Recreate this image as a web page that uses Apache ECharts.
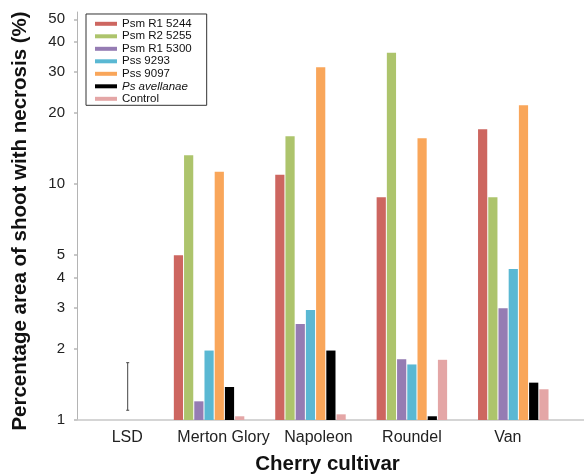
<!DOCTYPE html>
<html><head><meta charset="utf-8">
<script src="https://cdn.jsdelivr.net/npm/echarts@6/dist/echarts.min.js"></script>
<style>html,body{margin:0;padding:0;background:#fff}#c{width:584px;height:474px}</style>
</head><body><div id="c"></div>
<script>
// ---- data ----
const categories = ['LSD', 'Merton Glory', 'Napoleon', 'Roundel', 'Van'];
const seriesNames = ['Psm R1 5244', 'Psm R2 5255', 'Psm R1 5300', 'Pss 9293', 'Pss 9097', 'Ps avellanae', 'Control'];
const psmR1_5244 = [null, 5.0, 10.97, 8.8, 17.1];
const psmR2_5255 = [null, 13.26, 15.97, 36.1, 8.8];
const psmR1_5300 = [null, 1.2, 2.55, 1.81, 2.98];
const pss9293 = [null, 1.97, 2.93, 1.72, 4.37];
const pss9097 = [null, 11.3, 31.3, 15.65, 21.6];
const psAvellanae = [null, 1.38, 1.97, 1.037, 1.44];
const control = [null, 1.037, 1.057, 1.8, 1.35];
const lsdRange = [1.1, 1.75];
const yTickLabels = [1, 2, 3, 4, 5, 10, 20, 30, 40, 50];
const yMin = 1, yMax = 53.7;

// ---- styles ----
const seriesData = [psmR1_5244, psmR2_5255, psmR1_5300, pss9293, pss9097, psAvellanae, control];
const colors = ['#cd6660', '#adc46c', '#957cb3', '#5ab8d3', '#f9a65a', '#000000', '#e4a6a6'];
const FONT = '"Liberation Sans", Arial, sans-serif';

const series = seriesNames.map((n, i) => ({
  type: 'bar', name: n, data: seriesData[i],
  barWidth: 9.2, barGap: '11%',
  itemStyle: { color: colors[i] },
  xAxisIndex: 0, yAxisIndex: 0
}));
// trailing empty slots (layout spacing only)
series.push({ type: 'bar', name: 'gap1', data: categories.map(() => null), barWidth: 18.5, barGap: '11%', silent: true, itemStyle: { color: 'transparent' } });
series.push({ type: 'bar', name: 'gap2', data: categories.map(() => null), barWidth: 18.5, barGap: '11%', silent: true, itemStyle: { color: 'transparent' } });
// LSD error bar
series.push({
  type: 'custom', name: 'LSD', silent: true, z: 5,
  data: [[categories[0], lsdRange[0], lsdRange[1]]],
  renderItem: function (params, api) {
    const lo = api.coord([api.value(0), api.value(1)]);
    const hi = api.coord([api.value(0), api.value(2)]);
    const st = { stroke: '#444', lineWidth: 1 };
    return { type: 'group', children: [
      { type: 'line', shape: { x1: lo[0], y1: lo[1], x2: hi[0], y2: hi[1] }, style: st },
      { type: 'line', shape: { x1: lo[0] - 1.5, y1: lo[1], x2: lo[0] + 1.5, y2: lo[1] }, style: st },
      { type: 'line', shape: { x1: hi[0] - 1.5, y1: hi[1], x2: hi[0] + 1.5, y2: hi[1] }, style: st }
    ] };
  }
});

const labelShift = [1, 11, 24, 40, 51];
const rich = {};
labelShift.forEach((p, i) => { rich['c' + i] = { padding: [0, p, 0, 0], fontSize: 16, color: '#222', fontFamily: FONT }; });

const chart = echarts.init(document.getElementById('c'), null, { renderer: 'canvas' });
chart.setOption({
  animation: false,
  textStyle: { fontFamily: FONT },
  grid: { left: 77, right: 0, top: 12, bottom: 54, containLabel: false, outerBoundsMode: 'none' },
  legend: {
    orient: 'vertical', left: 86, top: 14,
    data: seriesNames.map(n => n === 'Ps avellanae' ? { name: n, textStyle: { fontStyle: 'italic' } } : n),
    icon: 'rect', itemWidth: 22, itemHeight: 4, itemGap: 0.5,
    borderColor: '#333', borderWidth: 1, padding: [3.8, 15, 0.5, 9],
    selectedMode: false,
    textStyle: { fontFamily: FONT, fontSize: 11.5, color: '#111' }
  },
  xAxis: {
    type: 'category', data: categories,
    axisLine: { onZero: false, lineStyle: { color: '#c8c8c8', width: 1.5 } },
    axisTick: { show: false },
    axisLabel: {
      interval: 0, margin: 10, fontSize: 16, color: '#222',
      formatter: function (v, i) { return '{c' + i + '|' + v + '}'; },
      rich: rich
    },
    name: 'Cherry cultivar', nameLocation: 'middle', nameGap: 34,
    nameTextStyle: { fontSize: 20.5, fontWeight: 'bold', color: '#111', padding: [0, 6, 0, 0] }
  },
  yAxis: [
    {
      type: 'log', logBase: 10, min: yMin, max: yMax, position: 'left',
      axisLine: { show: true, onZero: false, lineStyle: { color: '#b4b4b4', width: 1 } },
      axisTick: { show: false }, axisLabel: { show: false },
      splitLine: { show: false }, minorTick: { show: false },
      name: 'Percentage area of shoot with necrosis (%)', nameLocation: 'middle', nameGap: 46,
      nameTextStyle: { fontSize: 20.5, fontWeight: 'bold', color: '#111', padding: [0, 10, 0, 0] }
    },
    {
      type: 'value', position: 'left', min: Math.log10(yMin), max: Math.log10(yMax),
      axisLine: { show: false, onZero: false }, splitLine: { show: false },
      axisTick: { show: true, customValues: yTickLabels.map(Math.log10), length: 3, lineStyle: { color: '#c8c8c8', width: 2 } },
      axisLabel: {
        customValues: yTickLabels.map(Math.log10),
        formatter: function (v) { return String(Math.round(Math.pow(10, v))); },
        margin: 12, fontSize: 15, color: '#222'
      }
    }
  ],
  series: series
});
</script>
</body></html>
